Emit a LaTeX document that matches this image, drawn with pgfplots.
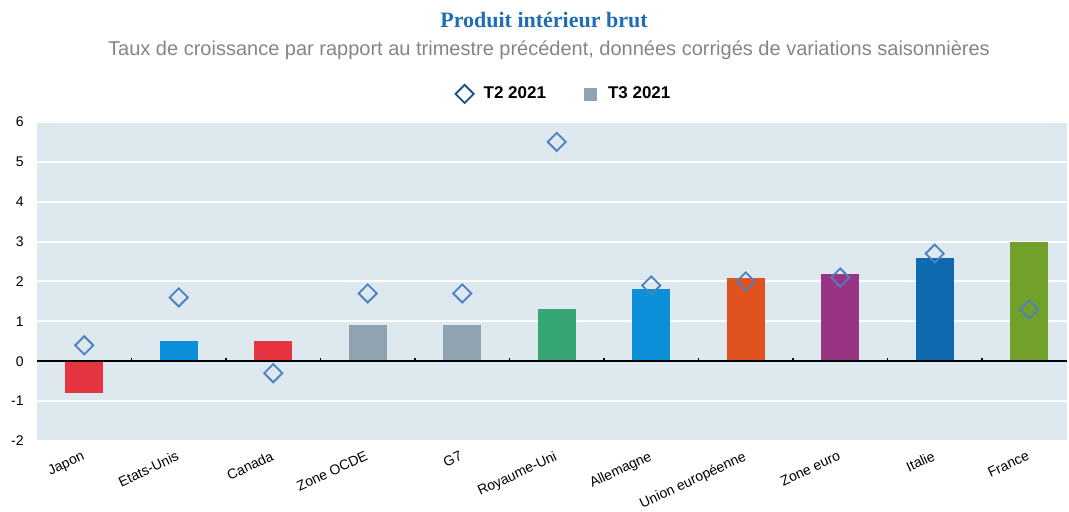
\documentclass[border=0pt]{standalone}
\usepackage{pgfplots}
\pgfplotsset{compat=1.18}
\usepackage{fontspec}
\setmainfont{Liberation Sans}
\newfontfamily\titlefont{Liberation Serif}
\definecolor{cred}{HTML}{E63540}
\definecolor{cblue}{HTML}{0B8FD8}
\definecolor{cgray}{HTML}{8FA4B0}
\definecolor{cgreen}{HTML}{35A674}
\definecolor{corange}{HTML}{E0521E}
\definecolor{cpurple}{HTML}{993383}
\definecolor{cdblue}{HTML}{0E69AE}
\definecolor{colive}{HTML}{72A02A}
\definecolor{plotbg}{HTML}{DEE8EF}
\definecolor{dedge}{HTML}{4C80C2}
\definecolor{ledge}{HTML}{1F4E8C}
\definecolor{titleblue}{HTML}{1E6EB5}
\definecolor{subgray}{HTML}{858585}
\begin{document}
\begin{tikzpicture}
\useasboundingbox (-18.5pt,-35.5pt) rectangle (516pt,220.5pt);
\begin{axis}[
  scale only axis, width=515pt, height=159.5pt,
  at={(0,0)}, anchor=south west,
  xmin=-0.5, xmax=10.4, ymin=-2, ymax=6,
  axis background/.style={fill=plotbg},
  axis line style={draw=none},
  ytick={-2,...,6}, ymajorgrids, grid style={white, line width=1pt},
  xtick={0,...,10},
  xticklabels={Japon,Etats-Unis,Canada,Zone OCDE,G7,Royaume-Uni,Allemagne,Union européenne,Zone euro,Italie,France},
  major tick length=0pt,
  tick label style={font=\fontsize{7}{8}\selectfont},
  xticklabel style={xshift=-1.5pt, yshift=-4.5pt, rotate=25, anchor=north east, inner sep=0pt},
  yticklabel style={anchor=east, inner sep=0pt, xshift=-6.5pt},
  /pgf/number format/assume math mode=true,
  clip=false,
  legend style={at={(0.5126,1.088)}, anchor=center, legend columns=2, draw=none, fill=none,
    font=\bfseries\fontsize{8.5}{10}\selectfont,
    /tikz/every even column/.append style={column sep=17pt}},
]
\addlegendimage{only marks, mark=square, mark options={rotate=45, draw=ledge, fill=white, line width=0.9pt}, mark size=3.2pt}
\addlegendentry{\hspace{3pt}T2 2021}
\addlegendimage{only marks, mark=square*, mark options={draw=cgray, fill=cgray}, mark size=3pt}
\addlegendentry{\hspace{4pt}T3 2021}
\addplot[ybar, bar width=19pt, bar shift=0pt, fill=cred, draw=none, forget plot] coordinates {(0,-0.8)};
\addplot[ybar, bar width=19pt, bar shift=0pt, fill=cblue, draw=none, forget plot] coordinates {(1,0.5)};
\addplot[ybar, bar width=19pt, bar shift=0pt, fill=cred, draw=none, forget plot] coordinates {(2,0.5)};
\addplot[ybar, bar width=19pt, bar shift=0pt, fill=cgray, draw=none, forget plot] coordinates {(3,0.9)};
\addplot[ybar, bar width=19pt, bar shift=0pt, fill=cgray, draw=none, forget plot] coordinates {(4,0.9)};
\addplot[ybar, bar width=19pt, bar shift=0pt, fill=cgreen, draw=none, forget plot] coordinates {(5,1.3)};
\addplot[ybar, bar width=19pt, bar shift=0pt, fill=cblue, draw=none, forget plot] coordinates {(6,1.8)};
\addplot[ybar, bar width=19pt, bar shift=0pt, fill=corange, draw=none, forget plot] coordinates {(7,2.1)};
\addplot[ybar, bar width=19pt, bar shift=0pt, fill=cpurple, draw=none, forget plot] coordinates {(8,2.2)};
\addplot[ybar, bar width=19pt, bar shift=0pt, fill=cdblue, draw=none, forget plot] coordinates {(9,2.6)};
\addplot[ybar, bar width=19pt, bar shift=0pt, fill=colive, draw=none, forget plot] coordinates {(10,3.0)};
\draw[black, line width=0.8pt] (axis cs:-0.5,0) -- (axis cs:10.4,0);
\pgfplotsinvokeforeach{0.5,1.5,2.5,3.5,4.5,5.5,6.5,7.5,8.5,9.5}{
  \draw[black, line width=0.7pt] (axis cs:#1,0) -- (axis cs:#1,0.07);
}
\addplot[only marks, mark=square, mark options={rotate=45, draw=dedge, fill=white, line width=0.9pt}, mark size=3.2pt, forget plot]
  coordinates {(0,0.4) (1,1.6) (2,-0.3) (3,1.7) (4,1.7) (5,5.5) (6,1.9) (7,2.0) (8,2.1) (9,2.7) (10,1.3)};
\end{axis}
\node[font=\titlefont\bfseries\fontsize{11}{13}\selectfont, text=titleblue] at (253.5pt,210.5pt) {Produit intérieur brut};
\node[font=\fontsize{10}{12}\selectfont, text=subgray] at (256pt,195.5pt) {Taux de croissance par rapport au trimestre précédent, données corrigés de variations saisonnières};
\end{tikzpicture}
\end{document}
